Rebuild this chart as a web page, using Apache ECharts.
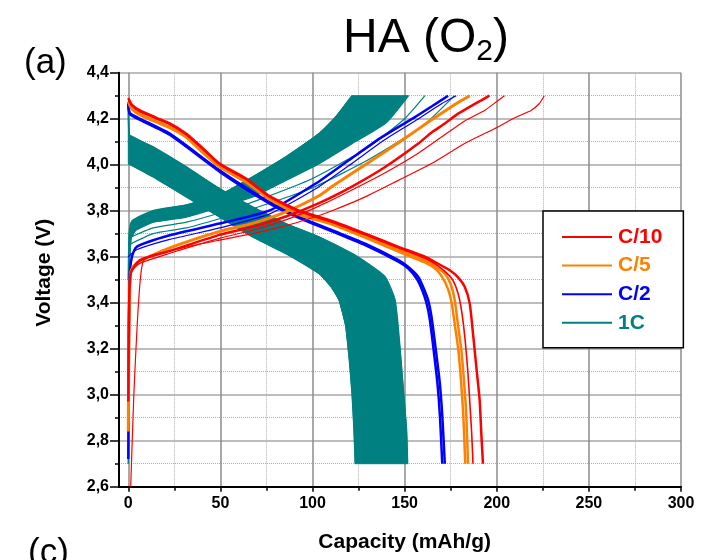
<!DOCTYPE html>
<html>
<head>
<meta charset="utf-8">
<script src="https://cdn.jsdelivr.net/npm/echarts@6/dist/echarts.min.js"></script>
<style>
  html, body { margin: 0; padding: 0; background: #fff; }
  #chart { width: 705px; height: 560px; }
</style>
</head>
<body>
<div id="chart"></div>
<script>
// Charge / discharge profiles, [capacity (mAh/g), voltage (V)]

// C/10
const redDischargeA = [[0,4.29],[2,4.26],[6.3,4.236],[15,4.205],[22.5,4.18],[31.5,4.135],[40,4.075],[49.5,4.005],[63.9,3.94],[76.5,3.865],[92.8,3.80],[110.6,3.755],[128.6,3.70],[146.6,3.643],[161,3.60],[168,3.57],[174.5,3.541],[179,3.51],[182.6,3.469],[185.3,3.397],[187.1,3.266],[188.9,3.121],[190.7,2.977],[191.6,2.832],[192.5,2.70]];
const redDischargeB = [[0,4.28],[2,4.255],[6.3,4.23],[15,4.2],[22.5,4.175],[31.5,4.13],[40,4.07],[49.5,4.0],[63.9,3.935],[76.5,3.86],[92.8,3.795],[110.6,3.75],[128.6,3.695],[146.6,3.638],[161,3.593],[168,3.56],[172,3.535],[176,3.50],[179,3.44],[181,3.36],[182.8,3.24],[184.3,3.10],[185.5,2.95],[186.4,2.83],[187.1,2.70]];
const redChargeFirst = [[1.3,2.6],[3,3.0],[4.8,3.3],[6.5,3.5],[8.1,3.58],[12,3.605],[20,3.62],[31.5,3.643],[49.5,3.672],[67.5,3.70],[85.5,3.735],[98,3.765],[110.6,3.80],[128.6,3.86],[146.6,3.932],[164.6,4.005],[182.6,4.092],[200.6,4.164],[210,4.205],[218.6,4.236],[223,4.265],[225.8,4.30]];
const redChargeA = [[0,3.07],[0.4,3.4],[1.2,3.53],[6,3.57],[22.5,3.615],[49.5,3.68],[67.5,3.715],[85.5,3.76],[103.5,3.82],[121.4,3.89],[139.4,3.965],[157.4,4.05],[170,4.12],[182.6,4.19],[193.4,4.236],[200,4.275],[204.2,4.30]];
const redChargeB = [[0,2.97],[0.4,3.35],[1.3,3.527],[6.3,3.585],[22.5,3.625],[49.5,3.695],[67.5,3.73],[85.5,3.775],[103.5,3.833],[121.4,3.905],[139.4,3.99],[157.4,4.092],[164.6,4.14],[172,4.18],[179,4.222],[186,4.255],[191.6,4.28],[196,4.30]];

// C/5
const orangeDischargeA = [[0,4.275],[2,4.245],[6.3,4.22],[15,4.19],[22.5,4.165],[31.5,4.122],[40,4.06],[49.5,3.995],[63.9,3.928],[76.5,3.855],[92.8,3.787],[110.6,3.745],[128.6,3.688],[146.6,3.628],[161,3.583],[168,3.55],[171.8,3.527],[175,3.48],[177.2,3.41],[179,3.30],[180.8,3.194],[182.3,3.05],[183.5,2.904],[184.4,2.70]];
const orangeDischargeB = [[0,4.27],[2,4.24],[6.3,4.215],[15,4.185],[22.5,4.16],[31.5,4.118],[40,4.055],[49.5,3.99],[63.9,3.923],[76.5,3.85],[92.8,3.782],[110.6,3.74],[128.6,3.683],[146.6,3.622],[161,3.575],[167,3.545],[170.5,3.51],[173.5,3.46],[175.5,3.40],[177.5,3.29],[179.2,3.19],[180.7,3.05],[181.9,2.90],[182.9,2.70]];
const orangeCharge = [[0,2.84],[0.4,3.3],[1.2,3.53],[3,3.56],[6.3,3.58],[22.5,3.638],[49.5,3.71],[67.5,3.745],[85.5,3.795],[103.5,3.865],[110.6,3.905],[128.6,4.0],[146.6,4.095],[164.6,4.195],[175,4.25],[181,4.28],[185.3,4.30]];

// C/2
const blueDischargeA = [[0,4.27],[0.8,4.225],[5,4.205],[22.5,4.135],[49.5,3.976],[76.5,3.838],[92.8,3.773],[110.6,3.715],[128.6,3.657],[146.6,3.585],[152,3.555],[157.4,3.512],[160.5,3.46],[162.8,3.41],[164.6,3.338],[167,3.19],[169.1,3.049],[170.5,2.90],[171.8,2.70]];
const blueDischargeB = [[0,4.265],[0.8,4.22],[5,4.2],[22.5,4.13],[49.5,3.97],[76.5,3.832],[92.8,3.768],[110.6,3.71],[128.6,3.65],[146.6,3.578],[152,3.548],[156.5,3.505],[159.5,3.455],[161.8,3.40],[163.6,3.33],[165.8,3.19],[167.8,3.049],[169.2,2.90],[170.4,2.70]];
const blueChargeA = [[0,2.72],[0.3,3.2],[0.8,3.52],[2,3.6],[4.5,3.643],[22.5,3.693],[49.5,3.744],[76.5,3.80],[101.7,3.918],[119.6,4.019],[137.6,4.12],[155.6,4.207],[165,4.255],[173.6,4.30]];
const blueChargeB = [[0,3.6],[4.5,3.63],[22.5,3.675],[49.5,3.725],[76.5,3.785],[101.7,3.895],[119.6,3.995],[137.6,4.10],[155.6,4.19],[170,4.265],[178,4.30]];

// 1C: envelope of the cycling band plus a few separated cycles
const tealChargeUpper = [[0,3.5],[0.5,3.70],[2,3.755],[13.5,3.80],[31.5,3.825],[49.5,3.867],[67.5,3.947],[85.5,4.034],[103.5,4.135],[112.5,4.207],[121.4,4.30]];
const tealChargeLower = [[0,3.24],[0.5,3.55],[1.5,3.68],[4,3.715],[13.5,3.751],[31.5,3.773],[49.5,3.816],[67.5,3.86],[85.5,3.932],[103.5,4.005],[121.4,4.092],[139.4,4.179],[152,4.30]];
const tealDischargeUpper = [[0,4.27],[0.6,4.13],[13.5,4.077],[31.5,3.99],[49.5,3.896],[67.5,3.816],[85.5,3.744],[103.5,3.686],[121.4,3.614],[130,3.57],[139.4,3.512],[144.8,3.41],[147.5,3.20],[149.5,3.00],[151,2.85],[151.6,2.70]];
const tealDischargeLower = [[0,4.005],[13.5,3.947],[31.5,3.86],[49.5,3.773],[67.5,3.686],[85.5,3.614],[95,3.57],[103.5,3.527],[110,3.47],[114.5,3.41],[118,3.30],[120,3.15],[121.5,3.0],[122.5,2.85],[123.2,2.70]];
const tealChargeThinA = [[0,3.68],[13.5,3.725],[31.5,3.75],[49.5,3.79],[70,3.845],[100,3.94],[130,4.075],[150,4.2],[161,4.30]];
const tealChargeThinB = [[0,3.65],[13.5,3.70],[31.5,3.725],[49.5,3.765],[70,3.815],[100,3.90],[130,4.02],[160,4.17],[177,4.30]];
const tealRestSegment = [[0,2.70],[0,3.24]];

// Axis ticks
const capacityTicks = { min: 0, max: 300, step: 50 };
const voltageTicks = { min: 2.6, max: 4.4, step: 0.2 };

const RED = '#ff0000', ORANGE = '#ff8000', BLUE = '#0000ff', TEAL = '#008080';
const FONT = '"Liberation Sans", Arial, sans-serif';

function curve(name, color, width, pts) {
  return {
    type: 'line', name: name, xAxisIndex: 1, yAxisIndex: 1,
    data: pts, showSymbol: false, symbol: 'none', smooth: 0.2,
    lineStyle: { color: color, width: width }, itemStyle: { color: color },
    silent: true
  };
}

// Closed outline: one edge forward, the other edge back
function band(upper, lower) {
  return upper.concat(lower.slice().reverse());
}

const tealBands = [band(tealChargeUpper, tealChargeLower), band(tealDischargeUpper, tealDischargeLower)];

const series = [
  curve('1C', TEAL, 1.5, tealChargeUpper),
  {
    type: 'custom', name: '1C', xAxisIndex: 1, yAxisIndex: 1, data: [[0, 4]], silent: true,
    itemStyle: { color: TEAL },
    renderItem: function (params, api) {
      return {
        type: 'group',
        children: tealBands.map(function (poly) {
          return { type: 'polygon', shape: { points: poly.map(function (p) { return api.coord(p); }) },
                   style: { fill: TEAL, stroke: TEAL, lineWidth: 1 } };
        })
      };
    }
  },
  curve('1C', TEAL, 1.5, tealChargeLower),
  curve('1C', TEAL, 1.5, tealDischargeUpper),
  curve('1C', TEAL, 1.5, tealDischargeLower),
  curve('1C', TEAL, 1.2, tealChargeThinA),
  curve('1C', TEAL, 1.2, tealChargeThinB),
  curve('1C', TEAL, 1.5, tealRestSegment),
  curve('C/2', BLUE, 1.2, blueChargeB),
  curve('C/2', BLUE, 2.5, blueChargeA),
  curve('C/2', BLUE, 2.5, blueDischargeB),
  curve('C/2', BLUE, 2.5, blueDischargeA),
  curve('C/5', ORANGE, 3, orangeCharge),
  curve('C/5', ORANGE, 2.5, orangeDischargeB),
  curve('C/5', ORANGE, 2.5, orangeDischargeA),
  curve('C/10', RED, 1.2, redChargeFirst),
  curve('C/10', RED, 1.2, redChargeA),
  curve('C/10', RED, 2.5, redChargeB),
  curve('C/10', RED, 1.6, redDischargeB),
  curve('C/10', RED, 2.5, redDischargeA)
];

const chart = echarts.init(document.getElementById('chart'), null, { renderer: 'canvas' });
chart.setOption({
  animation: false,
  backgroundColor: '#fff',
  title: [
    {
      text: 'HA (O{sub|2})', left: 343, top: 11, padding: 0,
      textStyle: {
        fontFamily: FONT, fontSize: 48, fontWeight: 'normal', color: '#000', lineHeight: 56,
        rich: { sub: { fontFamily: FONT, fontSize: 30, lineHeight: 30, verticalAlign: 'bottom', color: '#000' } }
      }
    },
    { text: '(a)', left: 24, top: 46, padding: 0, textStyle: { fontFamily: FONT, fontSize: 35, fontWeight: 'normal', color: '#000' } },
    { text: '(c)', left: 28, top: 536, padding: 0, textStyle: { fontFamily: FONT, fontSize: 35, fontWeight: 'normal', color: '#000' } }
  ],
  legend: {
    orient: 'vertical', left: 543, top: 211,
    padding: [15, 21, 14, 19],
    borderColor: '#000', borderWidth: 1.5, backgroundColor: '#fff',
    icon: 'rect', itemWidth: 50, itemHeight: 2, itemGap: 6.6,
    selectedMode: false,
    textStyle: { fontFamily: FONT, fontSize: 21, fontWeight: 'bold', lineHeight: 22, padding: [0, 0, 0, 1] },
    data: [
      { name: 'C/10', textStyle: { color: RED } },
      { name: 'C/5', textStyle: { color: ORANGE } },
      { name: 'C/2', textStyle: { color: BLUE } },
      { name: '1C', textStyle: { color: TEAL } }
    ]
  },
  grid: [
    { left: 119, right: 24, top: 72.7, bottom: 73.3, containLabel: false },
    { left: 128.3, right: 24, top: 72.7, bottom: 73.3, containLabel: false }
  ],
  xAxis: [
    {
      gridIndex: 0, type: 'value', min: 0, max: 1,
      axisLine: { show: true, onZero: false, lineStyle: { color: '#000', width: 2 } },
      axisTick: { show: false }, axisLabel: { show: false }, splitLine: { show: false }
    },
    {
      gridIndex: 1, type: 'value', min: capacityTicks.min, max: capacityTicks.max, interval: capacityTicks.step,
      axisLine: { show: false, onZero: false },
      axisTick: { show: true, length: 5, lineStyle: { color: '#000', width: 1.5 } },
      minorTick: { show: true, splitNumber: 2, length: 4, lineStyle: { color: '#000', width: 1.5 } },
      axisLabel: { color: '#000', fontFamily: FONT, fontSize: 16, fontWeight: 'bold', margin: 9 },
      splitLine: { show: true, lineStyle: { color: '#8c8c8c', width: 1.5 } },
      minorSplitLine: { show: true, lineStyle: { color: '#b0b0b0', width: 1, type: 'dotted' } },
      name: 'Capacity (mAh/g)', nameLocation: 'middle', nameGap: 45,
      nameTextStyle: { color: '#000', fontFamily: FONT, fontSize: 21, fontWeight: 'bold' }
    }
  ],
  yAxis: [
    {
      gridIndex: 0, type: 'value', min: voltageTicks.min, max: voltageTicks.max, interval: voltageTicks.step,
      axisLine: { show: true, onZero: false, lineStyle: { color: '#000', width: 2 } },
      axisTick: { show: true, length: 9, lineStyle: { color: '#000', width: 1.5 } },
      minorTick: { show: true, splitNumber: 2, length: 4, lineStyle: { color: '#000', width: 1.5 } },
      axisLabel: {
        color: '#000', fontFamily: FONT, fontSize: 16, fontWeight: 'bold', margin: 10,
        formatter: function (v) { return v.toFixed(1).replace('.', ','); }
      },
      splitLine: { show: true, lineStyle: { color: '#bdbdbd', width: 2 } },
      minorSplitLine: { show: true, lineStyle: { color: '#b0b0b0', width: 1, type: 'dotted' } },
      name: 'Voltage (V)', nameLocation: 'middle', nameGap: 64,
      nameTextStyle: { color: '#000', fontFamily: FONT, fontSize: 21, fontWeight: 'bold', padding: [0, 0, 0, 14] }
    },
    {
      gridIndex: 1, type: 'value', min: voltageTicks.min, max: voltageTicks.max, show: false,
      splitLine: { show: false }
    }
  ],
  series: series
});
</script>
</body>
</html>
